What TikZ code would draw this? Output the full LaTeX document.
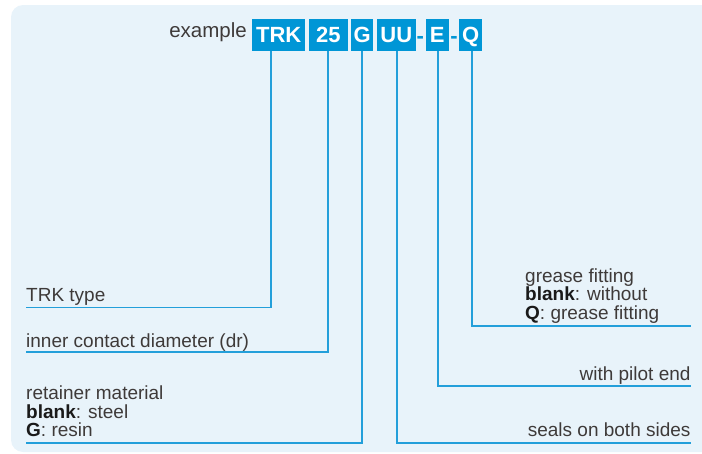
\documentclass[tikz,border=0pt]{standalone}
\usepackage{fontspec}
\setmainfont{Liberation Sans}
\definecolor{bgblue}{HTML}{E8F3FA}
\definecolor{boxblue}{HTML}{0096D6}
\definecolor{lineblue}{HTML}{239FDA}
\definecolor{txtgray}{HTML}{3E3A39}
\definecolor{txtdark}{HTML}{1A1A1A}
\begin{document}
\begin{tikzpicture}[x=1pt,y=-1pt,
  codebox/.style={fill=boxblue,text=white,inner sep=0pt,minimum height=32pt,
    font=\fontsize{22}{22}\selectfont\bfseries,text height=15.8pt,text depth=0pt,anchor=center},
  hyph/.style={text=boxblue,inner sep=0pt,font=\fontsize{22}{22}\selectfont\bfseries,anchor=base},
  lbl/.style={text=txtgray,inner sep=0pt,font=\fontsize{19}{18.4}\selectfont},
  conn/.style={draw=lineblue,line width=1.6pt}]
\useasboundingbox (0,0) rectangle (702,453);
\fill[bgblue,rounded corners=12pt] (11,5) rectangle (714,452);
% code line
\node[lbl,anchor=base east,font=\fontsize{20.5}{20}\selectfont] (ex) at (247,37.3) {example};
\node[codebox,minimum width=52.7pt] (trk) at (278.7,35) {TRK};
\node[codebox,minimum width=38.7pt] (d25) at (328.3,35) {25};
\node[codebox,minimum width=22.3pt] (g) at (362.2,35) {G};
\node[codebox,minimum width=38.7pt] (uu) at (396.3,35) {UU};
\node[hyph] (h1) at (420.3,43.3) {-};
\node[codebox,minimum width=23pt] (e) at (437.2,35) {E};
\node[hyph] (h2) at (454,43.3) {-};
\node[codebox,minimum width=22.5pt] (q) at (470.7,35) {Q};
% labels
\node[lbl,anchor=base west] (l1) at (26,301.7) {TRK type};
\node[lbl,anchor=base west] (l2) at (26,347.3) {inner contact diameter (dr)};
\node[lbl,anchor=base west,align=left] (l3) at (26,436.7) {retainer material\\{\color{txtdark}\bfseries blank}: steel\\{\color{txtdark}\bfseries G}: resin};
\node[lbl,anchor=base west,align=left] (l6) at (525,319.3) {grease fitting\\{\color{txtdark}\bfseries blank}: without\\{\color{txtdark}\bfseries Q}: grease fitting};
\node[lbl,anchor=base east] (l5) at (690.7,380.7) {with pilot end};
\node[lbl,anchor=base east] (l4) at (690.7,436.7) {seals on both sides};
% end coordinates
\coordinate (c1) at (26,307.3);
\coordinate (c2) at (26,352);
\coordinate (c3) at (26,442.7);
\coordinate (c4) at (690.7,442.7);
\coordinate (c5) at (690.7,386);
\coordinate (c6) at (690.7,326);
% connectors
\draw[conn] ([xshift=-7.7pt]trk.south) |- (c1);
\draw[conn] ([xshift=-0.6pt]d25.south) |- (c2);
\draw[conn] (g.south) |- (c3);
\draw[conn] ([xshift=0.4pt]uu.south) |- (c4);
\draw[conn] ([xshift=0.8pt]e.south) |- (c5);
\draw[conn] ([xshift=1.3pt]q.south) |- (c6);
\end{tikzpicture}
\end{document}
